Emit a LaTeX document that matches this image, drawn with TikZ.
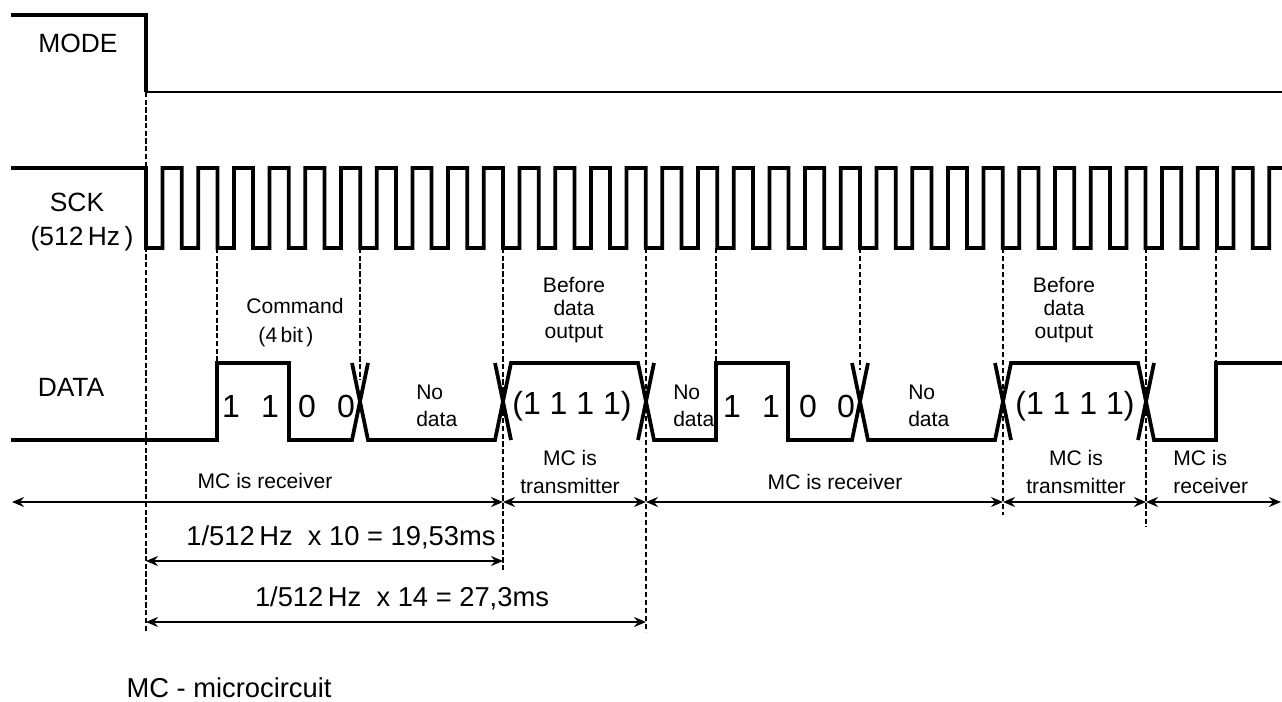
\documentclass[tikz,border=0pt]{standalone}
\usepackage{fontspec}
\setmainfont{Liberation Sans}
\usetikzlibrary{arrows.meta}

\tikzset{
  sig/.style={line width=2.8pt, line join=miter},
  guide/.style={dash pattern=on 4pt off 1.8pt, line width=1.8pt},
  guidethin/.style={dash pattern=on 4pt off 2pt, line width=0.8pt},
  span/.style={<->, line width=1.7pt},
  lbl/.style={font=\fontsize{19.8}{22}\selectfont, inner sep=0pt},
  note/.style={font=\fontsize{15.8}{17.5}\selectfont, align=center, inner sep=0pt},
  bit/.style={font=\fontsize{24}{28}\selectfont, inner sep=0pt}
}

\begin{document}
\begin{tikzpicture}[x=0.75pt, y=-0.75pt, >={Stealth[length=9pt,width=7.5pt,inset=3pt]}]
\useasboundingbox (0,0) rectangle (1282,701);

% signal names
\node[lbl] (mode) at (78,43) {MODE};
\node[lbl] (sck) at (77,202) {SCK};
\node[lbl] (hz) at (82,239) {(512\,Hz\,)};
\node[lbl] (data) at (71,387) {DATA};

% MODE
\draw[sig] (11,15) -- (146,15) -- (146,92);
\draw[line width=2.2pt] (146,92) -- (1282,92);

% SCK
\draw[sig] (11,168) -- (146,168)
  foreach \k in {0,...,30} { -- ({146+\k*35.7},248) -- ({162.5+\k*35.7},248)
    -- ({162.5+\k*35.7},168) -- ({181.7+\k*35.7},168) }
  -- (1252.7,248) -- (1269.2,248) -- (1269.2,168) -- (1282,168);

% DATA
\draw[sig] (11,440) -- (217,440) -- (217,363) -- (289,363) -- (289,440) -- (352,440) -- (368,363);
\draw[sig] (352,363) -- (368,440) -- (495,440) -- (511,363) -- (638,363) -- (654,440)
  -- (716,440) -- (716,363) -- (788,363) -- (788,440) -- (852,440) -- (868,363);
\draw[sig] (852,363) -- (868,440) -- (995,440) -- (1011,363) -- (1138,363) -- (1154,440)
  -- (1216,440) -- (1216,363) -- (1282,363);
\draw[sig] (495,363) -- (511,440);
\draw[sig] (638,440) -- (654,363);
\draw[sig] (995,363) -- (1011,440);
\draw[sig] (1138,440) -- (1154,363);

% guide lines
\draw[guide] (146,92) -- (146,632);
\draw[guide] (217,248) -- (217,363);
\draw[guide] (360,248) -- (360,380);
\draw[guide] (503,248) -- (503,570);
\draw[guidethin] (646,248) -- (646,632);
\draw[guide] (716,248) -- (716,363);
\draw[guidethin] (860,248) -- (860,370);
\draw[guidethin] (1003,248) -- (1003,515);
\draw[guide] (1146,248) -- (1146,527);
\draw[guidethin] (1216,248) -- (1216,363);

% bits
\foreach \x/\b in {231/1,270/1,307/0,346/0,732/1,771/1,808/0,846/0}
  \node[bit] at (\x,406) {\b};
\node[bit] (out1) at (572,406) {(1 1 1 1)};
\node[bit] (out2) at (1075,406) {(1 1 1 1)};

% phase texts
\node[note] (cmd) at (295,306) {Command};
\node[note] (cmdb) at (286,337) {(4\,bit\,)};
\node[note] (pre1) at (574,310) {Before\\data\\output};
\node[note] (pre2) at (1064,310) {Before\\data\\output};
\node[note, align=left, anchor=west] (nd1) at (416,406) {No\\[3pt]data};
\node[note, align=left, anchor=west] (nd2) at (673,406) {No\\[3pt]data};
\node[note, align=left, anchor=west] (nd3) at (908,406) {No\\[3pt]data};

% roles
\coordinate (r0) at (12,502);
\coordinate (r1) at (503,502);
\coordinate (r2) at (646,502);
\coordinate (r3) at (1003,502);
\coordinate (r4) at (1146,502);
\coordinate (r5) at (1281,502);
\draw[span] (r0) -- (r1);
\draw[span] (r1) -- (r2);
\draw[span, line width=0.8pt] (r2) -- (r3);
\draw[span] (r3) -- (r4);
\draw[span] (r4) -- (r5);
\node[note] (rx1) at (265,481) {MC is receiver};
\node[note] (tx1) at (570,472) {MC is\\[3pt]transmitter};
\node[note] (rx2) at (835,482) {MC is receiver};
\node[note] (tx2) at (1076,472) {MC is\\[3pt]transmitter};
\node[note, align=left, anchor=west] (rx3) at (1173,472) {MC is\\[3pt]receiver};

% timings
\coordinate (d0) at (146,561);
\coordinate (d1) at (503,561);
\coordinate (e0) at (146,622);
\coordinate (e1) at (646,622);
\draw[span] (d0) -- (d1);
\draw[span] (e0) -- (e1);
\node[lbl, font=\fontsize{20.5}{24}\selectfont] (t10) at (341,537) {1/512\,Hz~~x 10 = 19,53ms};
\node[lbl, font=\fontsize{20.5}{24}\selectfont] (t14) at (402,598) {1/512\,Hz~~x 14 = 27,3ms};

\node[lbl, font=\fontsize{20.5}{24}\selectfont] (mc) at (229,688) {MC - microcircuit};
\end{tikzpicture}
\end{document}
